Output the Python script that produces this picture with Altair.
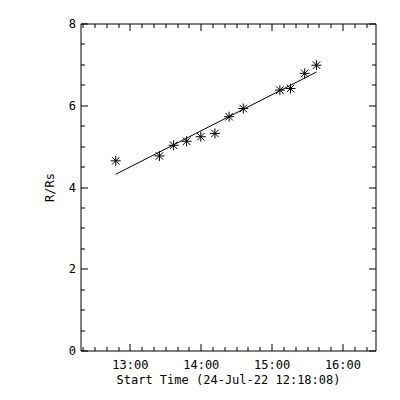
import altair as alt
import pandas as pd

DATE = "2022-07-24"
# event times (UT) and heights (R/Rs)
times = ["12:48:00", "13:25:00", "13:37:00", "13:48:00", "14:00:00", "14:12:00",
         "14:24:00", "14:36:00", "15:07:00", "15:16:00", "15:28:00", "15:38:00"]
r_rs = [4.64, 4.76, 5.02, 5.12, 5.23, 5.31, 5.72, 5.92, 6.37, 6.41, 6.78, 6.98]

x_start = "12:18:08"
x_end = "16:28:00"
x_major = ["13:00:00", "14:00:00", "15:00:00", "16:00:00"]
x_minor = ["12:20:00", "12:30:00", "12:40:00", "12:50:00",
           "13:10:00", "13:20:00", "13:30:00", "13:40:00", "13:50:00",
           "14:10:00", "14:20:00", "14:30:00", "14:40:00", "14:50:00",
           "15:10:00", "15:20:00", "15:30:00", "15:40:00", "15:50:00",
           "16:10:00", "16:20:00"]
y_major = [0, 2, 4, 6, 8]
y_minor = [0.5, 1, 1.5, 2.5, 3, 3.5, 4.5, 5, 5.5, 6.5, 7, 7.5]
x_title = "Start Time (24-Jul-22 12:18:08)"
y_title = "R/Rs"


def ms(t):
    return int(pd.Timestamp(f"{DATE} {t}", tz="UTC").value // 10**6)


df = pd.DataFrame({"ms": [ms(t) for t in times], "r": r_rs})

FONT = "DejaVu Sans Mono"
FS = 12
MAJ = 7
MIN = 4

xscale = alt.Scale(domain=[ms(x_start), ms(x_end)], nice=False, zero=False)
yscale = alt.Scale(domain=[0, 8], nice=False, zero=False)

common = dict(grid=False, domain=False, tickColor="black", tickWidth=1,
              labelFont=FONT, labelFontSize=FS, labelColor="black",
              titleFont=FONT, titleFontSize=FS, titleFontWeight="normal",
              titleColor="black", labelFlush=False, labelOverlap=False)


def xax(orient, values, size, labels, title=None):
    kw = dict(common)
    kw.update(orient=orient, values=values, tickSize=size, offset=-size, labels=labels)
    if labels:
        kw.update(labelExpr="utcFormat(datum.value, '%H:%M')", labelPadding=9,
                  title=title, titlePadding=4)
    else:
        kw.update(title=None)
    return alt.Axis(**kw)


def yax(orient, values, size, labels, title=None):
    kw = dict(common)
    kw.update(orient=orient, values=values, tickSize=size, offset=-size, labels=labels)
    if labels:
        kw.update(labelPadding=5, title=title, titlePadding=12)
    else:
        kw.update(title=None)
    return alt.Axis(**kw)


xmaj = [ms(t) for t in x_major]
xmin = [ms(t) for t in x_minor]

star = "M-1,0L1,0M0,-1L0,1M-0.75,-0.75L0.75,0.75M-0.75,0.75L0.75,-0.75"

base = alt.Chart(df)

pts = base.mark_point(shape=star, size=100, filled=False, stroke="black",
                      strokeWidth=1, opacity=1).encode(
    x=alt.X("ms:Q", scale=xscale, axis=xax("bottom", xmaj, MAJ, True, x_title)),
    y=alt.Y("r:Q", scale=yscale, axis=yax("left", y_major, MAJ, True, y_title)),
)

fit = base.transform_regression("ms", "r").mark_line(color="black", strokeWidth=1).encode(
    x=alt.X("ms:Q", scale=xscale, axis=xax("bottom", xmin, MIN, False)),
    y=alt.Y("r:Q", scale=yscale, axis=yax("left", y_minor, MIN, False)),
)

top_maj = base.mark_point(opacity=0).encode(
    x=alt.X("ms:Q", scale=xscale, axis=xax("top", xmaj, MAJ, False)),
    y=alt.Y("r:Q", scale=yscale, axis=yax("right", y_major, MAJ, False)),
)

top_min = base.mark_point(opacity=0).encode(
    x=alt.X("ms:Q", scale=xscale, axis=xax("top", xmin, MIN, False)),
    y=alt.Y("r:Q", scale=yscale, axis=yax("right", y_minor, MIN, False)),
)

chart = alt.layer(pts, fit, top_maj, top_min).resolve_axis(
    x="independent", y="independent"
).properties(
    width=295, height=327,
    autosize=alt.AutoSizeParams(type="none"),
    padding={"left": 72.5, "top": 15.5, "right": 10, "bottom": 40},
    background="white",
).configure_view(stroke="black", strokeWidth=1)

chart.save("out.html", embed_options={"renderer": "svg", "actions": False})
